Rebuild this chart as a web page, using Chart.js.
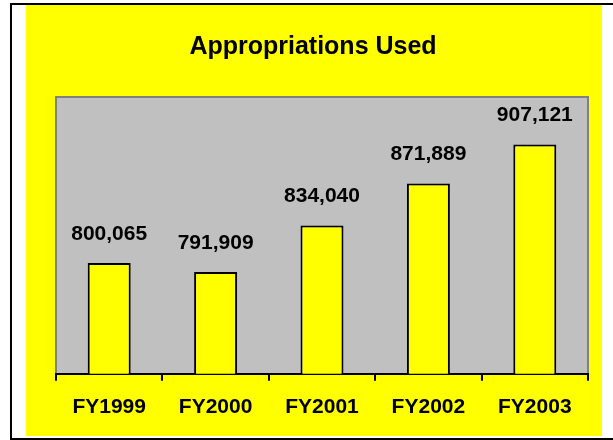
<!DOCTYPE html>
<html>
<head>
<meta charset="utf-8">
<script src="https://cdn.jsdelivr.net/npm/chart.js@4/dist/chart.umd.min.js"></script>
<style>
  html, body { margin: 0; padding: 0; background: #fff; }
  #wrap { width: 613px; height: 440px; }
</style>
</head>
<body>
<div id="wrap"><canvas id="myChartBar" width="613" height="440"></canvas></div>
<script>
// data
const categories = ['FY1999', 'FY2000', 'FY2001', 'FY2002', 'FY2003'];
const appropriations = [800065, 791909, 834040, 871889, 907121];
const chartTitle = 'Appropriations Used';

const FONT = '"Liberation Sans", Arial, sans-serif';

// white page, black frame, yellow panel, gray plot area, title
const backdrop = {
    id: 'backdrop',
    beforeDraw(chart) {
        const ctx = chart.ctx;
        const a = chart.chartArea;
        ctx.save();
        ctx.fillStyle = '#ffffff';
        ctx.fillRect(0, 0, chart.width, chart.height);
        ctx.strokeStyle = '#000000';
        ctx.lineWidth = 2;
        ctx.strokeRect(11, 4, chart.width + 10, 435);
        ctx.fillStyle = '#ffff00';
        ctx.fillRect(26, 5, 576, 431);
        ctx.fillStyle = '#c0c0c0';
        ctx.fillRect(a.left, a.top, a.right - a.left, a.bottom - a.top);
        ctx.strokeStyle = '#808080';
        ctx.lineWidth = 2;
        ctx.beginPath();
        ctx.moveTo(a.left, a.bottom);
        ctx.lineTo(a.left, a.top);
        ctx.lineTo(a.right, a.top);
        ctx.lineTo(a.right, a.bottom);
        ctx.stroke();
        ctx.fillStyle = '#000000';
        ctx.font = 'bold 25px ' + FONT;
        ctx.textAlign = 'center';
        ctx.textBaseline = 'alphabetic';
        ctx.fillText(chartTitle, 313, 54);
        ctx.restore();
    }
};

// value labels above the bars
const valueLabels = {
    id: 'valueLabels',
    afterDatasetsDraw(chart) {
        const ctx = chart.ctx;
        const meta = chart.getDatasetMeta(0);
        ctx.save();
        ctx.fillStyle = '#000000';
        ctx.font = 'bold 21px ' + FONT;
        ctx.textAlign = 'center';
        ctx.textBaseline = 'alphabetic';
        meta.data.forEach((bar, i) => {
            ctx.fillText(appropriations[i].toLocaleString('en-US'), bar.x, bar.y - 23);
        });
        ctx.restore();
    }
};

const ctx = document.getElementById('myChartBar').getContext('2d');
const barChart = new Chart(ctx, {
    type: 'bar',
    data: {
        labels: categories,
        datasets: [{
            label: chartTitle,
            data: appropriations,
            backgroundColor: '#ffff00',
            borderColor: '#000000',
            borderWidth: 2,
            categoryPercentage: 1.0,
            barPercentage: 0.404
        }]
    },
    options: {
        responsive: false,
        animation: false,
        layout: {
            padding: { left: 56, right: 25, top: 97, bottom: 6 }
        },
        plugins: {
            legend: { display: false },
            title: { display: false },
            tooltip: { enabled: false }
        },
        scales: {
            x: {
                grid: {
                    offset: true,
                    drawOnChartArea: false,
                    drawTicks: true,
                    tickLength: 7,
                    color: '#000000',
                    lineWidth: 2
                },
                border: { display: true, color: '#000000', width: 2 },
                ticks: {
                    color: '#000000',
                    padding: 14,
                    font: { family: FONT, size: 21, weight: 'bold' }
                }
            },
            y: {
                display: false,
                min: 700000,
                max: 950000
            }
        }
    },
    plugins: [backdrop, valueLabels]
});
</script>
</body>
</html>
